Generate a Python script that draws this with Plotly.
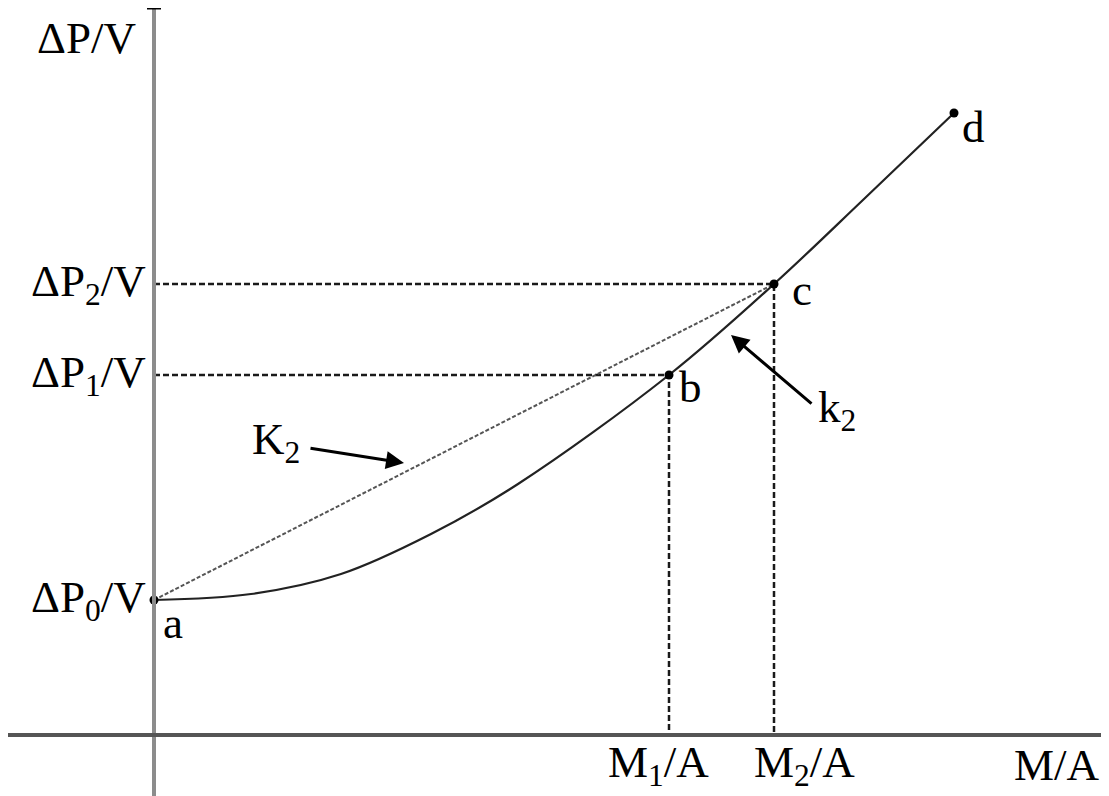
import plotly.graph_objects as go

# curve a -> b -> c -> d (x: M/A, y: dP/V, arbitrary units)
curve_x = [0, 97, 187, 277, 364, 515, 620, 710, 800]
curve_y = [135, 141, 161, 201, 251, 360, 451, 536, 622]

point_names = ['a', 'b', 'c', 'd']
point_x = [0, 515, 620, 800]
point_y = [135, 360, 451, 622]

y_tick_labels = ['ΔP<sub>0</sub>/V', 'ΔP<sub>1</sub>/V', 'ΔP<sub>2</sub>/V']
x_tick_labels = ['M<sub>1</sub>/A', 'M<sub>2</sub>/A']

font_family = 'Liberation Serif'
fsize = 45
ink = '#1a1a1a'

fig = go.Figure()

# dashed guide lines from b and c to both axes
for px_, py_ in zip(point_x[1:3], point_y[1:3]):
    fig.add_trace(go.Scatter(x=[0, px_, px_], y=[py_, py_, 0], mode='lines',
                             line=dict(color=ink, width=2.5, dash='6px,3px'),
                             showlegend=False, hoverinfo='skip'))

# chord K2 from a to c
fig.add_trace(go.Scatter(x=[point_x[0], point_x[2]], y=[point_y[0], point_y[2]], mode='lines',
                         line=dict(color='#555555', width=2, dash='4px,2px'),
                         showlegend=False, hoverinfo='skip'))

# the curve
fig.add_trace(go.Scatter(x=curve_x, y=curve_y, mode='lines',
                         line=dict(color='#222222', width=2.2, shape='spline', smoothing=1.0),
                         showlegend=False, hoverinfo='skip'))

fig.add_trace(go.Scatter(x=point_x, y=point_y, mode='markers',
                         marker=dict(color='black', size=9),
                         showlegend=False, hoverinfo='skip'))

# axes drawn by hand (they cross at the origin)
fig.add_shape(type='line', x0=0, x1=0, y0=-75, y1=727, line=dict(color='#8c8c8c', width=4))
fig.add_shape(type='line', x0=-148, x1=956, y0=0, y1=0, line=dict(color='#555555', width=4))
fig.add_shape(type='line', x0=-7, x1=7, y0=727, y1=727, line=dict(color='black', width=3))
fig.add_shape(type='line', x0=953, x1=953, y0=-5, y1=5, line=dict(color='black', width=3))

text_style = dict(showarrow=False, font=dict(family=font_family, size=fsize, color='black'))

fig.add_annotation(x=-16, y=697, text='ΔP/V', xanchor='right', yanchor='middle', **text_style)
for lbl, yv in zip(y_tick_labels, point_y[:3]):
    fig.add_annotation(x=-6, y=yv, text=lbl, xanchor='right', yanchor='middle', **text_style)
for lbl, xv, dx in zip(x_tick_labels, point_x[1:3], [-11, 30]):
    fig.add_annotation(x=xv + dx, y=-30, text=lbl, xanchor='center', yanchor='middle', **text_style)
fig.add_annotation(x=903, y=-30, text='M/A', xanchor='center', yanchor='middle', **text_style)

label_offsets = [(19, -23), (21, -12), (28, -6), (19, -14)]
for name, xv, yv, (dx, dy) in zip(point_names, point_x, point_y, label_offsets):
    fig.add_annotation(x=xv + dx, y=yv + dy, text=name, xanchor='center', yanchor='middle', **text_style)

# K2 and k2 labels with arrows
fig.add_annotation(x=122, y=293, text='K<sub>2</sub>', xanchor='center', yanchor='middle', **text_style)
fig.add_annotation(x=250, y=272, ax=155, ay=287, xref='x', yref='y', axref='x', ayref='y',
                   showarrow=True, arrowhead=2, arrowsize=1.2, arrowwidth=3, arrowcolor='black', text='')
fig.add_annotation(x=683, y=325, text='k<sub>2</sub>', xanchor='center', yanchor='middle', **text_style)
fig.add_annotation(x=577, y=400, ax=659, ay=330, xref='x', yref='y', axref='x', ayref='y',
                   showarrow=True, arrowhead=2, arrowsize=1.2, arrowwidth=3, arrowcolor='black', text='')

fig.update_layout(width=1109, height=796, autosize=False,
                  margin=dict(l=0, r=0, t=0, b=0),
                  plot_bgcolor='white', paper_bgcolor='white')
# ranges shifted by the page's 8px body margin so the origin lands where it does in the reference
fig.update_xaxes(range=[-146, 963], visible=False)
fig.update_yaxes(range=[-69, 727], visible=False)

fig.write_html('out.html')
